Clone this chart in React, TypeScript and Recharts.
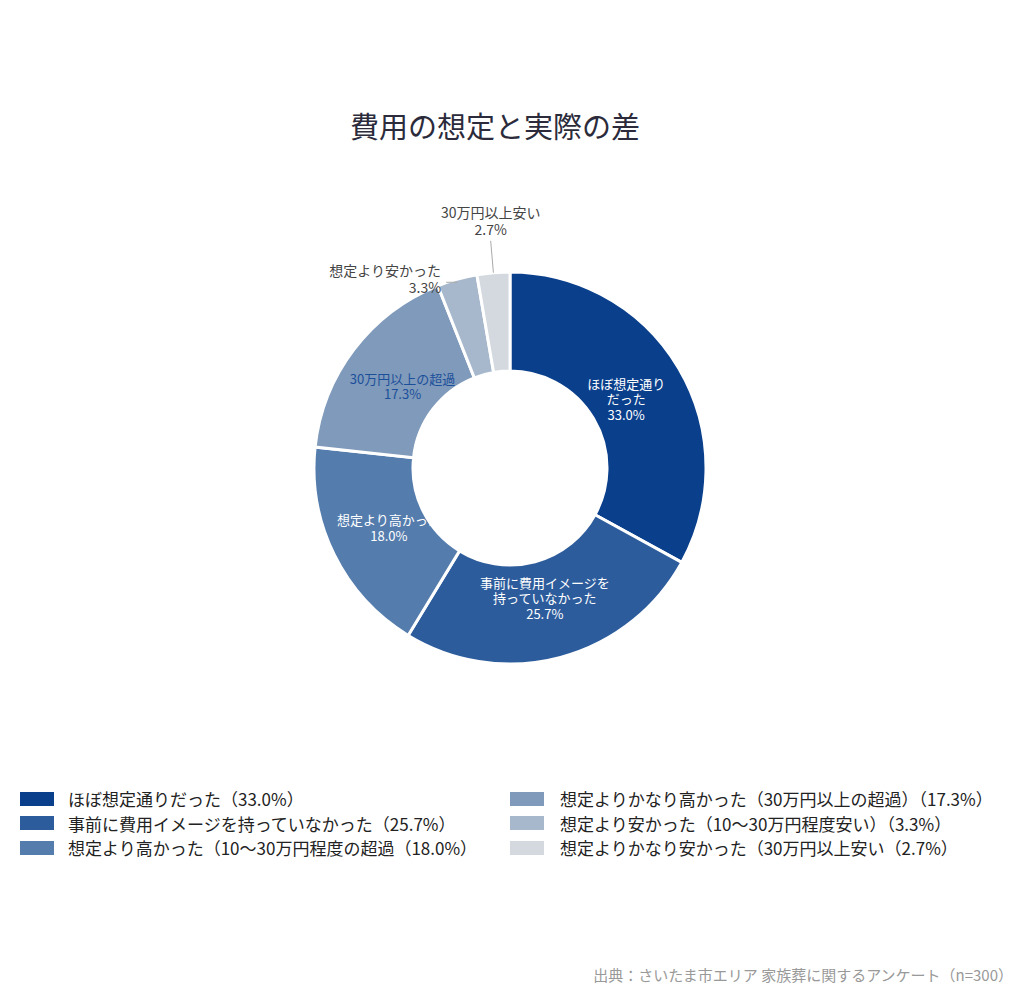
import { Cell, Pie, PieChart } from 'recharts'

const categories = [
  'ほぼ想定通りだった',
  '事前に費用イメージを持っていなかった',
  '想定より高かった',
  '想定よりかなり高かった',
  '想定より安かった',
  '想定よりかなり安かった',
]
const values = [33.0, 25.7, 18.0, 17.3, 3.3, 2.7]
const sliceLabels = [
  ['ほぼ想定通り', 'だった'],
  ['事前に費用イメージを', '持っていなかった'],
  ['想定より高かった'],
  ['30万円以上の超過'],
  ['想定より安かった'],
  ['30万円以上安い'],
]
const legendLabels = [
  'ほぼ想定通りだった（33.0%）',
  '事前に費用イメージを持っていなかった（25.7%）',
  '想定より高かった（10〜30万円程度の超過（18.0%）',
  '想定よりかなり高かった（30万円以上の超過）（17.3%）',
  '想定より安かった（10〜30万円程度安い）（3.3%）',
  '想定よりかなり安かった（30万円以上安い（2.7%）',
]

const COLORS = ['#0a3f8c', '#2d5c9c', '#547cad', '#7f9aba', '#a7b8cd', '#d3d9de']
const LABEL_COLORS = ['#ffffff', '#ffffff', '#ffffff', '#1c4f9a', '#444444', '#444444']
const FONT = '"Noto Sans CJK JP", "Noto Sans", sans-serif'
const RAD = Math.PI / 180

const data = categories.map((name, i) => ({ name, value: values[i] }))

function renderLabel(props: any) {
  const { cx, cy, midAngle, outerRadius, index } = props
  const lines = [...sliceLabels[index], `${values[index].toFixed(1)}%`]
  const color = LABEL_COLORS[index]
  const cos = Math.cos(-midAngle * RAD)
  const sin = Math.sin(-midAngle * RAD)

  if (index === 4) {
    const x0 = cx + outerRadius * cos
    const y0 = cy + outerRadius * sin + 3
    return (
      <g>
        <line x1={x0} y1={y0} x2={x0 - 11} y2={y0} stroke="#aaaaaa" strokeWidth={1} />
        {lines.map((l, k) => (
          <text key={k} x={x0 - 16} y={y0 - 6 + k * 17} textAnchor="end" fill={color} fontSize={14} fontFamily={FONT}>
            {l}
          </text>
        ))}
      </g>
    )
  }
  if (index === 5) {
    const x0 = cx + outerRadius * cos
    const y0 = cy + outerRadius * sin
    const x1 = cx + 228 * cos
    const y1 = cy + 228 * sin
    return (
      <g>
        <line x1={x0} y1={y0} x2={x1} y2={y1} stroke="#aaaaaa" strokeWidth={1} />
        {lines.map((l, k) => (
          <text key={k} x={x1} y={y1 - 23 + k * 17} textAnchor="middle" fill={color} fontSize={14} fontFamily={FONT}>
            {l}
          </text>
        ))}
      </g>
    )
  }
  const x = cx + 135 * cos
  const y = cy + 135 * sin
  const start = y - ((lines.length - 1) * 15.5) / 2 + 5
  return (
    <g>
      {lines.map((l, k) => (
        <text key={k} x={x} y={start + k * 15.5} textAnchor="middle" fill={color} fontSize={13} fontFamily={FONT}>
          {l}
        </text>
      ))}
    </g>
  )
}

export default function App() {
  return (
    <div style={{ position: 'relative', width: 1024, height: 997, margin: -8, background: '#fff', fontFamily: FONT }}>
      <div
        style={{ position: 'absolute', left: 0, width: 990, top: 104, textAlign: 'center', fontSize: 29, color: '#2b2b3b' }}
      >
        費用の想定と実際の差
      </div>
      <div style={{ position: 'absolute', left: 0, top: 0 }}>
        <PieChart width={1024} height={760} margin={{ top: 0, right: 0, bottom: 0, left: 0 }}>
          <Pie
            data={data}
            dataKey="value"
            nameKey="name"
            cx={510}
            cy={468}
            innerRadius={97}
            outerRadius={196}
            startAngle={90}
            endAngle={-270}
            stroke="#ffffff"
            strokeWidth={3}
            label={renderLabel}
            labelLine={false}
            isAnimationActive={false}
          >
            {data.map((_, i) => (
              <Cell key={i} fill={COLORS[i]} />
            ))}
          </Pie>
          <Pie
            data={[{ name: 'hole', value: 1 }]}
            dataKey="value"
            cx={510}
            cy={468}
            innerRadius={0}
            outerRadius={96}
            fill="#ffffff"
            stroke="none"
            isAnimationActive={false}
          />
        </PieChart>
      </div>
      {legendLabels.map((t, i) => {
        const col = i < 3 ? 0 : 1
        const row = i % 3
        return (
          <div
            key={i}
            style={{
              position: 'absolute',
              left: col === 0 ? 20 : 510,
              top: 786 + row * 24.5,
              display: 'flex',
              alignItems: 'center',
              fontSize: 17,
              color: '#222',
              whiteSpace: 'nowrap',
            }}
          >
            <span style={{ width: 34, height: 14, background: COLORS[i], display: 'inline-block', marginRight: col === 0 ? 14 : 16 }} />
            {t}
          </div>
        )
      })}
      <div style={{ position: 'absolute', right: 11, top: 964, fontSize: 15, color: '#999' }}>
        出典：さいたま市エリア 家族葬に関するアンケート（n=300）
      </div>
    </div>
  )
}
